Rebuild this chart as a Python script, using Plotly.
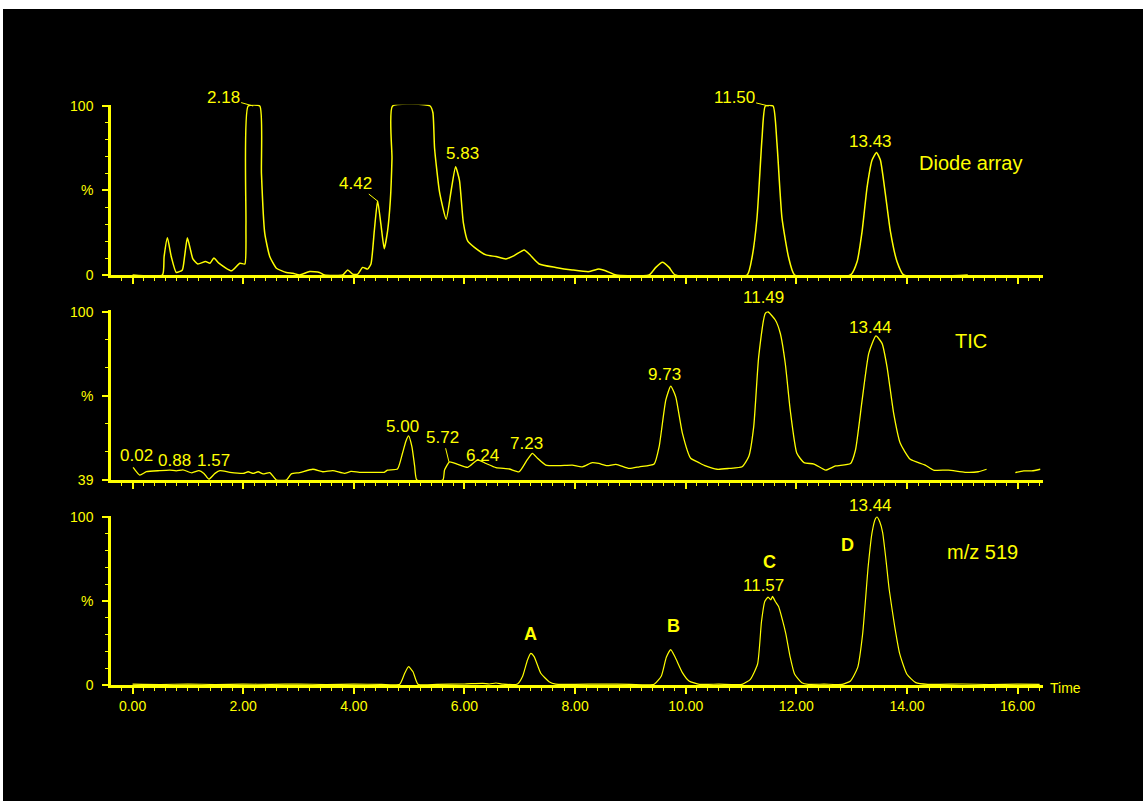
import plotly.graph_objects as go

W, H = 1143, 801
YEL = "#FFFF00"
FONT = "Liberation Sans, Arial, sans-serif"

# ---------------- data ----------------
da_time = [0.00, 0.54, 0.57, 0.63, 0.70, 0.79, 0.90, 0.94, 0.99, 1.05, 1.09, 1.18, 1.32, 1.40,
           1.47, 1.56, 1.79, 1.94, 2.03, 2.05, 2.09, 2.30, 2.33, 2.39, 2.48, 2.60, 2.78, 2.90,
           3.02, 3.20, 3.38, 3.47, 3.80, 3.89, 3.98, 4.07, 4.16, 4.25, 4.31, 4.37, 4.43, 4.49,
           4.55, 4.61, 4.66, 4.69, 4.70, 5.38, 5.43, 5.46, 5.55, 5.67, 5.76, 5.84, 5.91, 5.98,
           6.06, 6.18, 6.39, 6.57, 6.75, 6.90, 7.08, 7.17, 7.35, 7.65, 7.95, 8.25, 8.43, 8.55,
           8.74, 9.34, 9.46, 9.58, 9.70, 9.81, 11.11, 11.20, 11.29, 11.38, 11.44, 11.58, 11.65,
           11.74, 11.86, 11.97, 12.98, 13.10, 13.19, 13.28, 13.37, 13.45, 13.52, 13.61, 13.70,
           13.82, 13.94, 15.10]
da_pct = [0, 0, 10.8, 22, 10.8, 1.5, 3, 10.8, 22, 14.5, 9.5, 6.5, 8, 7,
          10, 7, 2.5, 7, 6.5, 30, 100, 100, 60, 24.6, 11, 4, 1.5, 1,
          0, 2, 1.5, 0, 0, 3, 0.5, 0.5, 4.5, 3.5, 6.5, 26, 44, 30,
          15.6, 26, 44, 69, 100, 100, 96, 75, 49, 33, 50, 64, 56, 31,
          20, 16.4, 11.9, 10.9, 9.5, 11.5, 14.8, 12.4, 6.5, 4.5, 3, 2, 3.5, 2.5,
          0, 0, 4.5, 7.5, 4.5, 0, 0, 10.5, 34, 81, 100, 100, 78,
          34, 10.5, 0, 0, 8, 26, 52, 68, 72.5, 68, 48, 26,
          8, 0, 0]

tic_time = [0.01, 0.13, 0.25, 0.49, 0.67, 0.79, 0.91, 1.07, 1.20, 1.29, 1.38, 1.49, 1.58, 1.76,
            2.00, 2.09, 2.18, 2.27, 2.36, 2.48, 2.60, 2.78, 2.87, 3.02, 3.26, 3.44, 3.62, 3.83,
            3.95, 4.10, 4.34, 4.55, 4.61, 4.79, 4.88, 4.94, 4.99, 5.05, 5.10, 5.14, 5.61, 5.64,
            5.73, 5.88, 6.06, 6.24, 6.39, 6.57, 6.81, 6.99, 7.14, 7.23, 7.32, 7.47, 7.71, 7.95,
            8.13, 8.31, 8.43, 8.58, 8.74, 8.98, 9.16, 9.43, 9.52, 9.64, 9.73, 9.82, 9.94, 10.09,
            10.24, 10.36, 10.57, 10.78, 11.02, 11.14, 11.23, 11.32, 11.44, 11.49, 11.62, 11.71,
            11.80, 11.89, 12.01, 12.14, 12.32, 12.53, 12.71, 12.98, 13.07, 13.19, 13.31, 13.44,
            13.55, 13.64, 13.76, 13.88, 14.06, 14.33, 14.48, 14.75, 15.05, 15.29, 15.44, None,
            15.96, 16.11, 16.26, 16.41]
tic_pct = [43.6, 40.8, 42.0, 42.4, 42.6, 42.3, 42.7, 41.6, 42.4, 41.4, 39.3, 41.4, 42.4, 41.8,
           41.4, 42.0, 41.4, 42.0, 41.2, 41.7, 39.0, 39.0, 41.2, 41.7, 42.9, 42.0, 42.4, 41.4,
           42.1, 41.8, 41.8, 41.8, 42.6, 43.0, 48.7, 53.0, 55.0, 51.1, 44.0, 39.0, 39.0, 42.6,
           45.6, 44.7, 43.6, 46.3, 45.0, 43.5, 43.0, 42.0, 46.5, 48.7, 46.9, 44.4, 44.2, 44.4,
           43.8, 45.3, 45.0, 44.2, 44.7, 43.2, 43.8, 44.8, 51.1, 68.0, 73.1, 69.2, 56.0, 46.9,
           45.3, 44.1, 42.9, 43.2, 43.8, 47.5, 58.4, 83.8, 99.5, 100.0, 97.1, 92.3,
           81.4, 64.4, 48.7, 45.3, 44.8, 42.6, 44.1, 45.0, 49.9, 68.0, 85.0, 91.3,
           88.6, 80.1, 63.2, 52.3, 46.5, 44.4, 42.6, 42.6, 41.8, 42.0, 42.9, None,
           41.7, 42.3, 42.3, 42.9]

mz_time = [0.00, 0.50, 1.00, 1.50, 2.00, 2.50, 3.00, 3.50, 4.00, 4.50, 4.83, 4.92, 4.99, 5.07,
           5.16, 5.50, 6.00, 6.33, 6.45, 6.57, 6.70, 6.96, 7.05, 7.14, 7.20, 7.26, 7.38, 7.53,
           7.65, 8.00, 8.50, 9.00, 9.43, 9.56, 9.65, 9.73, 9.81, 9.94, 10.06, 10.25, 10.60,
           11.02, 11.17, 11.30, 11.37, 11.43, 11.49, 11.54, 11.57, 11.62, 11.68, 11.75, 11.81,
           11.89, 11.97, 12.10, 12.22, 12.50, 12.83, 12.98, 13.11, 13.20, 13.30, 13.37, 13.43,
           13.46, 13.51, 13.56, 13.62, 13.68, 13.78, 13.87, 14.00, 14.16, 14.38, 15.00, 15.50,
           16.00, 16.40]
mz_pct = [0.5, 0.3, 0.6, 0.3, 0.5, 0.4, 0.6, 0.3, 0.5, 0.4, 0.5, 7.0, 10.9, 7.9,
          0.5, 0.4, 0.6, 1.0, 0.6, 1.2, 0.5, 0.6, 5.0, 14.9, 18.8, 16.9, 7.0, 2.0,
          0.5, 0.4, 0.6, 0.4, 0.4, 5.4, 16.5, 21.1, 16.5, 7.4, 2.4, 0.4, 0.5,
          0.4, 3.4, 12.5, 37.6, 49.7, 52.3, 50.7, 52.7, 49.7, 46.7, 38.6, 30.6,
          16.5, 6.4, 1.4, 0.4, 0.5, 0.4, 2.4, 10.5, 30.6, 70.8, 90.9, 99.0,
          100.0, 97.0, 90.9, 74.8, 56.7, 34.6, 18.5, 6.4, 1.4, 0.4, 0.6, 0.3,
          0.5, 0.4]

x_tick_vals = list(range(0, 17))
x_tick_text = [f"{v:.2f}" if v % 2 == 0 else "" for v in x_tick_vals]

trace_names = ["Diode array", "TIC", "m/z 519"]
da_labels = ["2.18", "4.42", "5.83", "11.50", "13.43"]
tic_labels = ["0.02", "0.88", "1.57", "5.00", "5.72", "6.24", "7.23", "9.73", "11.49", "13.44"]
mz_labels = ["11.57", "13.44"]
compound_labels = ["A", "B", "C", "D"]

# ---------------- layout geometry (pixels) ----------------
def px(x):
    return x / W

def py(y):
    return 1 - y / H

X_DOM = [px(111), px(1043)]
X_RANGE = [-0.39, 16.46]
panels = [
    # (y pixel at range min, pixels per unit, range)
    (275, 1.69, [0, 100.8]),
    (480, 168 / 61, [39, 100.6]),
    (685, 1.68, [0, 100.8]),
]

fig = go.Figure()
series = [(da_time, da_pct, 1.5), (tic_time, tic_pct, 1.3), (mz_time, mz_pct, 1.2)]
for i, (t, v, w) in enumerate(series):
    k = "" if i == 0 else str(i + 1)
    fig.add_trace(go.Scatter(x=t, y=v, mode="lines", xaxis="x" + k, yaxis="y" + k,
                             line=dict(color=YEL, width=w, shape="spline", smoothing=0.5),
                             connectgaps=False, showlegend=False, hoverinfo="skip"))

minor_x = [round(-0.2 + 0.2 * i, 2) for i in range(0, 84)]
layout = dict(
    width=W, height=H, autosize=False, paper_bgcolor="black", plot_bgcolor="black",
    margin=dict(l=0, r=0, t=0, b=0, pad=0, autoexpand=False),
    font=dict(family=FONT, color=YEL, size=14),
    showlegend=False,
)
ytick_sets = [
    ([0, 50, 100], ["0", "%", "100"], [10 * i for i in range(11)]),
    ([39, 69.5, 100], ["39", "%", "100"], [39 + 61 / 6 * i for i in range(7)]),
    ([0, 50, 100], ["0", "%", "100"], [10 * i for i in range(11)]),
]
for i, (ybot, ppu, rng) in enumerate(panels):
    k = "" if i == 0 else str(i + 1)
    ytop = ybot - (rng[1] - rng[0]) * ppu
    layout["xaxis" + k] = dict(
        domain=X_DOM, range=X_RANGE, anchor="y" + k, showgrid=False, zeroline=False,
        automargin=False,
        showline=True, linecolor=YEL, linewidth=2.5,
        tickmode="array", tickvals=x_tick_vals, ticktext=x_tick_text,
        ticks="outside", ticklen=6, tickwidth=1.5, tickcolor=YEL,
        showticklabels=(i == 2), tickfont=dict(size=14, color=YEL),
        minor=dict(tickmode="array", tickvals=minor_x, ticks="outside", ticklen=3,
                   tickwidth=1.2, tickcolor=YEL, showgrid=False),
    )
    tv, tt, mv = ytick_sets[i]
    layout["yaxis" + k] = dict(
        domain=[py(ybot), py(ytop)], range=rng, anchor="x" + k, showgrid=False,
        zeroline=False, showline=True, linecolor=YEL, linewidth=2.5, automargin=False,
        tickmode="array", tickvals=tv, ticktext=tt,
        ticks="outside", ticklen=6, tickwidth=1.5, tickcolor=YEL,
        tickfont=dict(size=14, color=YEL), ticklabelstandoff=6,
        minor=dict(tickmode="array", tickvals=mv, ticks="outside", ticklen=3,
                   tickwidth=1.2, tickcolor=YEL, showgrid=False),
    )
fig.update_layout(**layout)

# white frame strips at top/left of the page
fig.add_shape(type="rect", xref="paper", yref="paper", x0=0, x1=1, y0=py(9), y1=1,
              fillcolor="white", line=dict(width=0), layer="below")
fig.add_shape(type="rect", xref="paper", yref="paper", x0=0, x1=px(3), y0=0, y1=1,
              fillcolor="white", line=dict(width=0), layer="below")

ann = []

def text_at(text, x, y, size=17, bold=False, xanchor="center"):
    ann.append(dict(text=f"<b>{text}</b>" if bold else text, xref="paper", yref="paper",
                    x=px(x), y=py(y), xanchor=xanchor, yanchor="middle", showarrow=False,
                    font=dict(size=size, color=YEL, family=FONT)))

def leader(text, xa, ya, tx, ty, ax, ay, size=17):
    ann.append(dict(text=text, xref=xa, yref=ya, x=tx, y=ty, ax=ax, ay=ay,
                    showarrow=True, arrowhead=0, arrowwidth=1, arrowcolor=YEL,
                    standoff=0, font=dict(size=size, color=YEL, family=FONT)))

# Diode array panel
leader(da_labels[0], "x", "y", 2.18, 100, -30, -8.5)
leader(da_labels[1], "x", "y", 4.42, 44, -22, -17.6)
text_at(da_labels[2], 462.8, 153.3)
leader(da_labels[3], "x", "y", 11.50, 100, -34.5, -8.5)
text_at(da_labels[4], 870.7, 141.2)
text_at(trace_names[0], 970, 163, size=20)

# TIC panel
tic_pos = {"0.02": (136.3, 455.3), "0.88": (174.5, 460.3), "1.57": (213, 460.3),
           "5.00": (402, 426.2), "6.24": (482, 455.5), "7.23": (526.7, 443),
           "9.73": (664.5, 374.7), "11.49": (763.3, 297.5), "13.44": (870.7, 327)}
for lab in tic_labels:
    if lab == "5.72":
        leader(lab, "x2", "y2", 5.72, 45.6, -6, -24.6)
    else:
        text_at(lab, *tic_pos[lab])
text_at(trace_names[1], 971.2, 340.8, size=20)

# m/z 519 panel
text_at(mz_labels[0], 763, 585.6)
text_at(mz_labels[1], 870.5, 505)
cmp_pos = [(530, 634.3), (673.3, 626.2), (769.7, 562.3), (847.4, 544.6)]
for lab, (x, y) in zip(compound_labels, cmp_pos):
    text_at(lab, x, y, size=18, bold=True)
text_at(trace_names[2], 982.6, 552, size=20)
text_at("Time", 1047.5, 688, size=14, xanchor="left")

fig.update_layout(annotations=ann)
fig.write_html("out.html")
